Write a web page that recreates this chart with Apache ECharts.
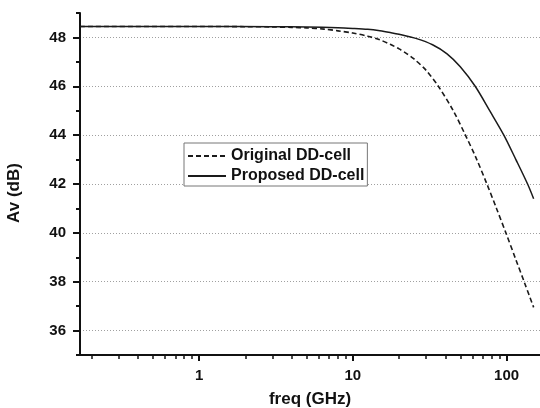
<!DOCTYPE html>
<html>
<head>
<meta charset="utf-8">
<script src="https://cdn.jsdelivr.net/npm/echarts@6/dist/echarts.min.js"></script>
<style>
  html, body { margin: 0; padding: 0; background: #fff; }
  #chart { width: 540px; height: 408px; }
</style>
</head>
<body>
<div id="chart"></div>
<script>
// Voltage gain of the two distributed cells versus frequency (GHz, dB)
const freqOriginal = [0.168, 1, 2, 3, 4, 5, 6.5, 8, 10, 12.5, 15, 17.5, 20, 22.5, 25, 30, 36, 45, 54, 63, 74.5, 86, 99, 115, 131, 150];
const gainOriginal = [48.45, 48.45, 48.44, 48.43, 48.41, 48.39, 48.34, 48.27, 48.18, 48.05, 47.9, 47.72, 47.53, 47.33, 47.12, 46.65, 46.0, 45.0, 44.0, 43.1, 42.0, 41.0, 40.0, 38.9, 37.95, 36.95];

const freqProposed = [0.168, 1, 3, 5, 8, 10, 12.5, 15, 17.5, 20, 26, 33, 41, 50, 62.5, 78, 96, 115, 137, 150];
const gainProposed = [48.45, 48.45, 48.44, 48.43, 48.4, 48.37, 48.33, 48.27, 48.2, 48.13, 47.95, 47.7, 47.33, 46.8, 46.0, 44.98, 44.0, 43.0, 42.0, 41.4];

const seriesNames = ['Original DD-cell', 'Proposed DD-cell'];

// Axis ticks
const xTickLabels = [1, 10, 100];
const xMinorTicks = [];
[0.1, 1, 10, 100].forEach(function (decade) {
  for (let k = 2; k <= 9; k++) xMinorTicks.push(+(k * decade).toPrecision(3));
});
const yTickLabels = [36, 38, 40, 42, 44, 46, 48];
const yMinorTicks = [35, 37, 39, 41, 43, 45, 47, 49];

const X_MIN = 0.168, X_MAX = 165, Y_MIN = 35, Y_MAX = 49;
const FONT = '"Liberation Sans", Arial, sans-serif';
const INK = '#111';

function pairs(xs, ys) { return xs.map(function (x, i) { return [x, ys[i]]; }); }

const chart = echarts.init(document.getElementById('chart'), null, { renderer: 'canvas' });

chart.setOption({
  backgroundColor: '#fff',
  animation: false,
  grid: { left: 80, right: 0, top: 13, bottom: 53, containLabel: false, outerBoundsMode: 'none' },
  legend: {
    orient: 'vertical',
    left: 184,
    top: 143,
    padding: [5, 3, 2, 3],
    itemWidth: 38,
    itemHeight: 14,
    itemGap: 4,
    backgroundColor: '#fff',
    borderColor: '#777',
    borderWidth: 1,
    borderRadius: 0,
    // keep only the line sample in each legend entry
    itemStyle: { opacity: 0 },
    textStyle: { fontFamily: FONT, fontSize: 16, fontWeight: 'bold', color: INK },
    data: seriesNames
  },
  xAxis: [
    {
      type: 'log', logBase: 10, min: X_MIN, max: X_MAX,
      position: 'bottom',
      name: 'freq (GHz)', nameLocation: 'middle', nameGap: 36,
      nameTextStyle: { fontFamily: FONT, fontSize: 17, fontWeight: 'bold', color: INK },
      axisLine: { show: true, lineStyle: { color: INK, width: 2 } },
      axisTick: { show: true, customValues: xTickLabels, length: 6, lineStyle: { color: INK, width: 2 } },
      axisLabel: {
        customValues: xTickLabels, margin: 13,
        fontFamily: FONT, fontSize: 15, fontWeight: 'bold', color: INK,
        formatter: function (v) { return String(Math.round(v)); }
      },
      splitLine: { show: false }, minorTick: { show: false }
    },
    {
      type: 'log', logBase: 10, min: X_MIN, max: X_MAX,
      position: 'bottom', offset: 0,
      axisLine: { show: false },
      axisTick: { show: true, customValues: xMinorTicks, length: 4, lineStyle: { color: INK, width: 1.5 } },
      axisLabel: { show: false },
      splitLine: { show: false }
    }
  ],
  yAxis: [
    {
      type: 'value', min: Y_MIN, max: Y_MAX,
      position: 'left',
      name: 'Av (dB)', nameLocation: 'middle', nameGap: 57,
      nameTextStyle: { fontFamily: FONT, fontSize: 17, fontWeight: 'bold', color: INK, padding: [0, 18, 0, 0] },
      axisLine: { show: true, lineStyle: { color: INK, width: 2 } },
      axisTick: { show: true, customValues: yTickLabels, length: 7, lineStyle: { color: INK, width: 2 } },
      axisLabel: { customValues: yTickLabels, margin: 14, fontFamily: FONT, fontSize: 15, fontWeight: 'bold', color: INK },
      splitLine: { show: true, lineStyle: { color: '#a0a0a0', width: 1, type: [1, 2] } }
    },
    {
      type: 'value', min: Y_MIN, max: Y_MAX,
      position: 'left', offset: 0,
      axisLine: { show: false },
      axisTick: { show: true, customValues: yMinorTicks, length: 4, lineStyle: { color: INK, width: 2 } },
      axisLabel: { show: false },
      splitLine: { show: false }
    }
  ],
  series: [
    {
      name: seriesNames[0], type: 'line', xAxisIndex: 0, yAxisIndex: 0,
      data: pairs(freqOriginal, gainOriginal),
      smooth: 0.3, showSymbol: false, symbol: 'none',
      lineStyle: { color: '#1a1a1a', width: 1.6, type: [5, 3] },
      itemStyle: { color: '#1a1a1a' }
    },
    {
      name: seriesNames[1], type: 'line', xAxisIndex: 0, yAxisIndex: 0,
      data: pairs(freqProposed, gainProposed),
      smooth: 0.3, showSymbol: false, symbol: 'none',
      lineStyle: { color: '#1a1a1a', width: 1.5, type: 'solid' },
      itemStyle: { color: '#1a1a1a' }
    }
  ]
});
</script>
</body>
</html>
